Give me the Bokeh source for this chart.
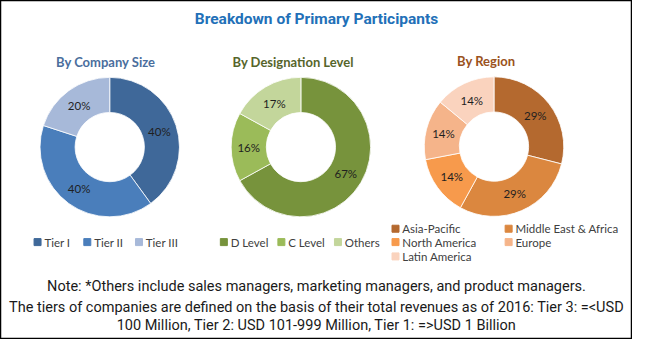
import numpy as np
from bokeh.plotting import figure
from bokeh.models import Range1d, ColumnDataSource
from bokeh.embed import file_html
from bokeh.resources import INLINE
from bokeh.core.properties import value

# ---------------- data ----------------
title_text = "Breakdown of Primary Participants"

size_title = "By Company Size"
size_labels = ["Tier I", "Tier II", "Tier III"]
size_values = [40, 40, 20]

desig_title = "By Designation Level"
desig_labels = ["D Level", "C Level", "Others"]
desig_values = [67, 16, 17]

region_title = "By Region"
region_labels = ["Asia-Pacific", "Middle East & Africa", "North America", "Europe", "Latin America"]
region_values = [29, 29, 14, 14, 14]

note_lines = [
    "Note: *Others include sales managers, marketing managers, and product managers.",
    "The tiers of companies are defined on the basis of their total revenues as of 2016: Tier 3: =<USD",
    "100 Million, Tier 2: USD 101-999 Million, Tier 1: =>USD 1 Billion",
]

# ---------------- styles ----------------
size_colors = ["#3F6899", "#4A7EBB", "#A7B9D9"]
desig_colors = ["#77933C", "#9BBB59", "#C3D69B"]
region_colors = ["#B4692F", "#DB873F", "#F79A4C", "#F5B48A", "#FAD3BE"]

H = 355
W = 648
R_OUT, R_IN, R_MID = 71.5, 35.5, 53.5
LBL_FONT = "Lato"
NOTE_FONT = "Roboto"

p = figure(width=632, height=339, x_range=Range1d(0, W), y_range=Range1d(0, H),
           output_backend="svg", toolbar_location=None, min_border=0)
p.axis.visible = False
p.grid.visible = False
p.outline_line_color = "black"
p.outline_line_width = 1.5


def Y(y):
    return H - y


def donut(cx, cy, vals, colors):
    v = np.array(vals, float)
    frac = v / v.sum()
    cum = np.concatenate([[0.0], np.cumsum(frac)])
    start = np.pi / 2 - 2 * np.pi * cum[:-1]
    end = np.pi / 2 - 2 * np.pi * cum[1:]
    mid = (start + end) / 2
    src = ColumnDataSource(dict(
        start=start, end=end, color=colors,
        lx=cx + R_MID * np.cos(mid), ly=Y(cy) + R_MID * np.sin(mid),
        lab=[f"{x:g}%" for x in vals]))
    p.annular_wedge(x=cx, y=Y(cy), inner_radius=R_IN, outer_radius=R_OUT,
                    start_angle="start", end_angle="end", direction="clock",
                    fill_color="color", line_color="white", line_width=0.8, source=src)
    p.text(x="lx", y="ly", text="lab", source=src, text_align="center",
           text_baseline="middle", text_font=value(LBL_FONT), text_font_size="11.5px",
           text_color="#1F1F1F")


def legend(xs, ys, labels, colors):
    src = ColumnDataSource(dict(x=np.array(xs, float), y=[Y(y) for y in ys],
                                lab=labels, color=colors))
    p.scatter(x="x", y="y", source=src, marker="square", size=7,
              fill_color="color", line_color="color")
    src2 = ColumnDataSource(dict(x=np.array(xs, float) + 7, y=[Y(y) for y in ys], lab=labels))
    p.text(x="x", y="y", text="lab", source=src2, text_align="left", text_baseline="middle",
           text_font=value(LBL_FONT), text_font_size="11.5px", text_color="#404040")


def label(x, y, txt, size, color, font, style="normal"):
    p.text(x=[x], y=[Y(y)], text=[txt], text_align="center", text_baseline="middle",
           text_font=value(font), text_font_size=size, text_color=color, text_font_style=style)


# title
label(324, 19, title_text, "15.5px", "#2270B8", NOTE_FONT, "bold")
# subtitles
label(108, 64, size_title, "13px", "#4A6E9D", LBL_FONT, "bold")
label(300, 64, desig_title, "13px", "#56652B", LBL_FONT, "bold")
label(498, 63, region_title, "13px", "#9A5220", LBL_FONT, "bold")

# donuts
donut(112, 153.5, size_values, size_colors)
donut(308, 153.5, desig_values, desig_colors)
donut(506, 153, region_values, region_colors)

# legends
legend([38, 89, 142], [253, 253, 253], size_labels, size_colors)
legend([229, 288, 346], [253, 253, 253], desig_labels, desig_colors)
legend([405, 521, 405, 521, 405], [239, 239, 253, 253, 268], region_labels, region_colors)

# notes
label(324, 299, note_lines[0], "14.5px", "#1A1A1A", NOTE_FONT)
label(324, 322, note_lines[1], "14.5px", "#1A1A1A", NOTE_FONT)
label(324, 340, note_lines[2], "14.5px", "#1A1A1A", NOTE_FONT)

open("out.html", "w").write(file_html(p, INLINE))
